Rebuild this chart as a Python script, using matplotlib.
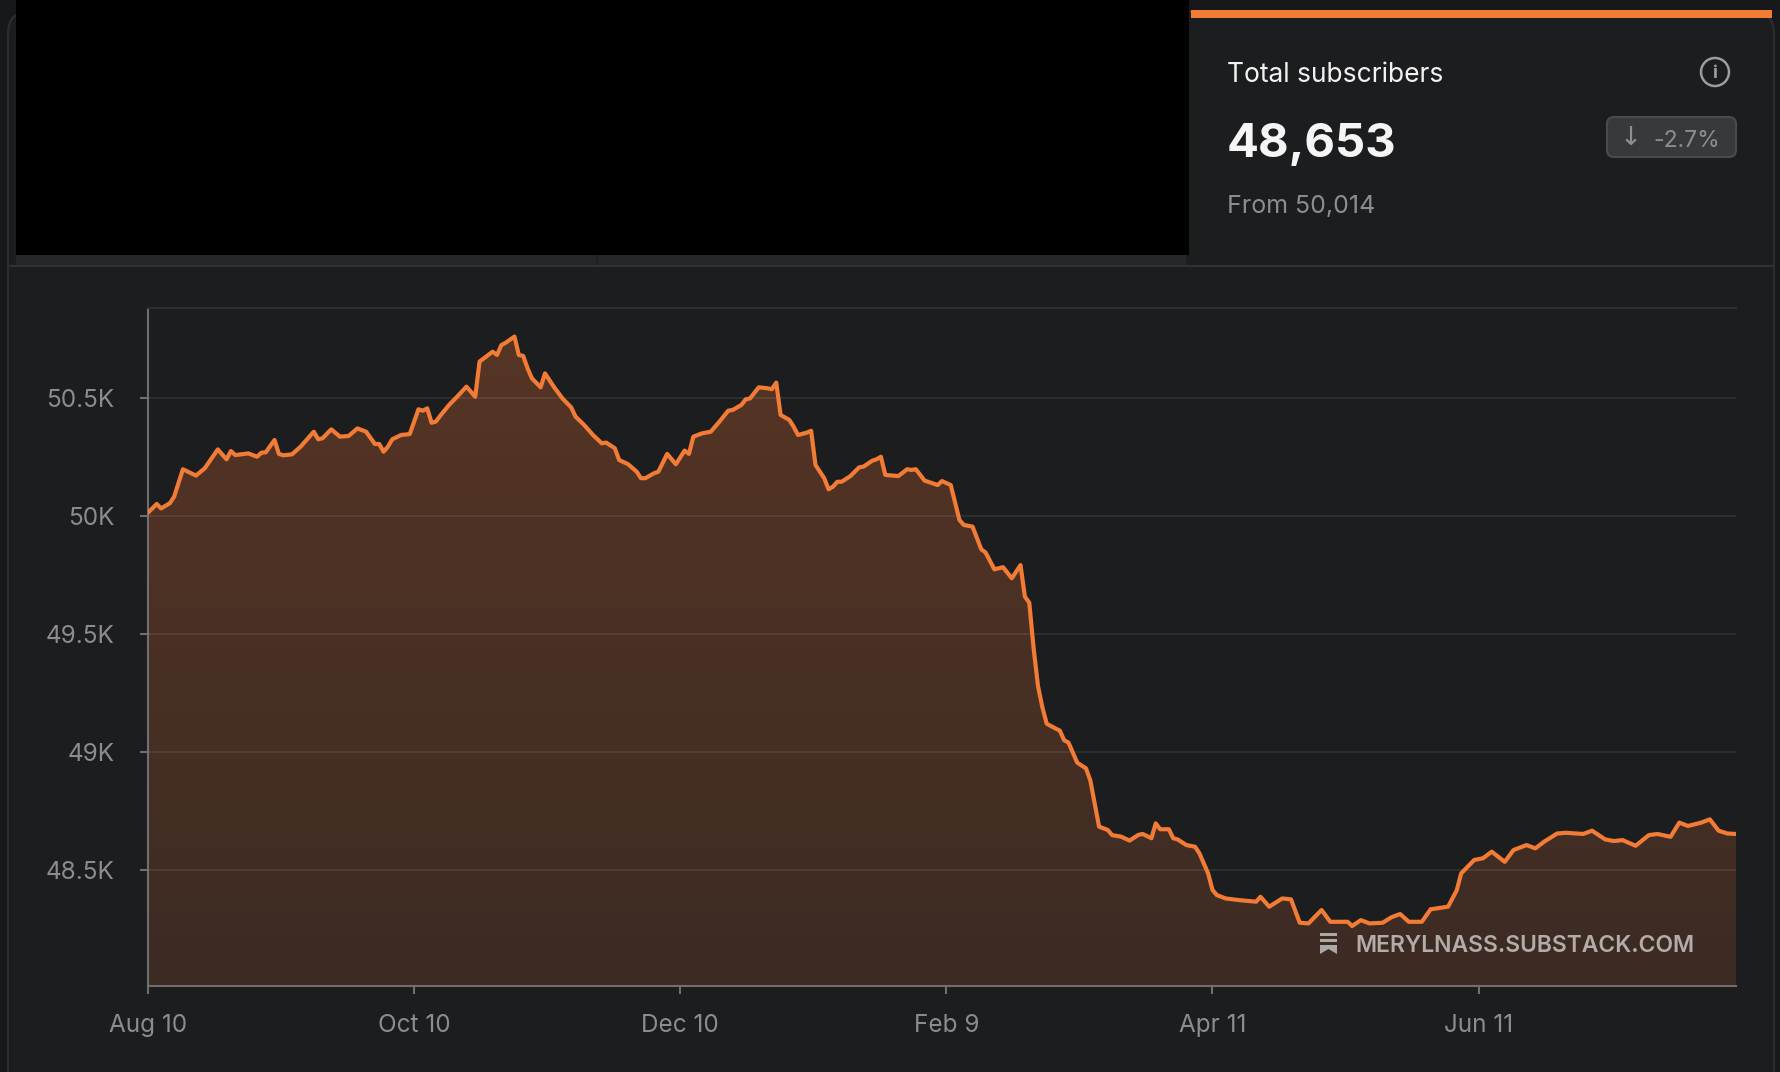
import numpy as np
import matplotlib
matplotlib.use("Agg")
import matplotlib.pyplot as plt
import matplotlib.dates as mdates
from matplotlib.patches import Rectangle, FancyBboxPatch, Ellipse, Polygon
from matplotlib.colors import LinearSegmentedColormap

plt.rcParams['font.family'] = ['Inter', 'DejaVu Sans']

# days since Aug 10 and total subscribers
days = [0, 2, 3, 5, 6, 8, 11, 13, 16, 18, 19, 20, 23, 25, 26, 27, 29, 30, 31, 33,
        35, 38, 39, 40, 42, 44, 46, 48, 50, 52, 53, 54, 55, 56, 58, 60, 62, 63, 64, 65,
        66, 67, 69, 71, 73, 75, 76, 79, 80, 81, 82, 84, 85, 86, 87, 88, 90, 91, 92, 93,
        95, 97, 98, 100, 102, 104, 105, 107, 108, 110, 112, 113, 114, 116, 117, 119, 121, 123, 124, 125,
        127, 129, 131, 133, 134, 136, 137, 138, 140, 142, 143, 144, 145, 147, 148, 149, 151, 152, 153, 155,
        156, 157, 158, 159, 161, 163, 164, 166, 167, 168, 169, 172, 174, 175, 176, 178, 181, 182, 184, 186,
        187, 189, 191, 192, 194, 196, 198, 200, 201, 202, 203, 204, 205, 206, 208, 209, 210, 211, 213, 215,
        216, 218, 220, 221, 223, 225, 227, 228, 230, 231, 232, 234, 235, 236, 238, 240, 241, 243, 244, 245,
        247, 250, 254, 255, 257, 260, 262, 264, 266, 269, 271, 275, 276, 278, 280, 283, 285, 287, 289, 292,
        294, 298, 300, 301, 304, 306, 308, 311, 313, 316, 318, 320, 323, 325, 329, 331, 334, 336, 338, 341,
        344, 346, 349, 351, 353, 356, 358, 360, 362, 364]
subs = [50014, 50051, 50032, 50054, 50082, 50198, 50171, 50202, 50282, 50240, 50275, 50258, 50265, 50251, 50268, 50270, 50322, 50263, 50257, 50261,
        50294, 50357, 50325, 50329, 50367, 50336, 50339, 50371, 50357, 50305, 50305, 50272, 50294, 50325, 50343, 50347, 50452, 50446, 50456, 50395,
        50400, 50425, 50470, 50508, 50548, 50505, 50654, 50696, 50682, 50724, 50734, 50760, 50682, 50678, 50626, 50583, 50545, 50604, 50576, 50548,
        50498, 50460, 50421, 50385, 50343, 50308, 50311, 50287, 50237, 50220, 50188, 50160, 50160, 50181, 50188, 50263, 50219, 50277, 50263, 50336,
        50350, 50357, 50400, 50446, 50449, 50470, 50494, 50498, 50545, 50541, 50537, 50565, 50428, 50407, 50378, 50343, 50353, 50361, 50216, 50160,
        50113, 50124, 50145, 50145, 50169, 50206, 50209, 50234, 50240, 50251, 50174, 50169, 50198, 50195, 50198, 50150, 50131, 50148, 50131, 49983,
        49962, 49955, 49859, 49845, 49774, 49783, 49736, 49792, 49658, 49633, 49440, 49280, 49190, 49120, 49100, 49091, 49050, 49040, 48955, 48931,
        48880, 48684, 48670, 48648, 48642, 48625, 48649, 48653, 48635, 48698, 48673, 48673, 48635, 48630, 48606, 48599, 48571, 48486, 48416, 48394,
        48380, 48373, 48366, 48387, 48345, 48380, 48376, 48277, 48274, 48331, 48281, 48281, 48263, 48288, 48274, 48277, 48300, 48314, 48281, 48281,
        48334, 48345, 48415, 48486, 48543, 48550, 48578, 48535, 48585, 48606, 48592, 48620, 48655, 48658, 48653, 48667, 48630, 48623, 48627, 48603,
        48648, 48653, 48641, 48701, 48687, 48701, 48715, 48667, 48655, 48653]

start = np.datetime64('2024-08-10')
dates = (start + np.array(days, dtype='timedelta64[D]')).astype('datetime64[ms]').astype(object)

tick_dates = ['2024-08-10', '2024-10-10', '2024-12-10', '2025-02-09', '2025-04-11', '2025-06-11']
tick_labels = ['Aug 10', 'Oct 10', 'Dec 10', 'Feb 9', 'Apr 11', 'Jun 11']
y_ticks = [48500, 49000, 49500, 50000, 50500]
y_labels = ['48.5K', '49K', '49.5K', '50K', '50.5K']

W, H = 1780, 1072
BG = '#1c1d1f'
ORANGE = '#f27b36'

fig = plt.figure(figsize=(W / 100, H / 100), dpi=100, facecolor='#17181a')


def box(x0, y0, x1, y1, z=-5, **kw):
    # pixel box (y from top) -> figure rectangle
    r = Rectangle((x0 / W, 1 - y1 / H), (x1 - x0) / W, (y1 - y0) / H,
                  transform=fig.transFigure, zorder=z, **kw)
    fig.patches.append(r)
    return r


# card background and frame
card = FancyBboxPatch((8 / W, -0.05), (1774 - 8) / W, 1.05 - 12 / H,
                      boxstyle='round,pad=0,rounding_size=0.012',
                      mutation_aspect=W / H, zorder=-10,
                      transform=fig.transFigure, facecolor=BG,
                      edgecolor='#2c2d30', lw=1.5)
fig.patches.append(card)

# redacted area and tab strip
box(16, 0, 1189, 255, facecolor='black', edgecolor='none')
box(16, 255, 1186, 265, facecolor='#25272a', edgecolor='none')
box(596, 255, 598, 265, facecolor='#1f2022', edgecolor='none')
box(9, 265, 1774, 267, facecolor='#303134', edgecolor='none')

# right summary card
box(1191, 10, 1772, 18, facecolor=ORANGE, edgecolor='none')
fig.text(1227 / W, 1 - 82 / H, 'Total subscribers', color='#f2f2f2', fontsize=19)
fig.text(1227 / W, 1 - 157 / H, '48,653', color='#f5f5f5', fontsize=34, fontweight='bold')
fig.text(1227 / W, 1 - 213 / H, 'From 50,014', color='#8d8d90', fontsize=18)

badge = FancyBboxPatch((1607 / W, 1 - 157 / H), (1736 - 1607) / W, 40 / H,
                       boxstyle='round,pad=0,rounding_size=0.004',
                       mutation_aspect=W / H, zorder=-4,
                       transform=fig.transFigure, facecolor='#38393c',
                       edgecolor='#4a4b4e', lw=1.5)
fig.patches.append(badge)
fig.text(1631 / W, 1 - 138 / H, '\u2193', color='#8e8e91', fontsize=19,
         ha='center', va='center', family='DejaVu Sans')
fig.text(1653 / W, 1 - 147 / H, '-2.7%', color='#8e8e91', fontsize=16.5)

info = Ellipse((1715 / W, 1 - 72 / H), 28 / W, 28 / H, transform=fig.transFigure,
               facecolor='none', edgecolor='#9c9c9f', lw=1.8, zorder=-4)
fig.patches.append(info)
fig.text(1715 / W, 1 - 73 / H, 'i', color='#9c9c9f', fontsize=13, fontweight='bold',
         ha='center', va='center')

# chart
ax = fig.add_axes([148 / W, 1 - 986 / H, (1736 - 148) / W, (986 - 308) / H])
ax.set_facecolor('none')

x0 = mdates.date2num(np.datetime64('2024-08-10'))
x1 = mdates.date2num(np.datetime64('2025-08-09'))
y0, y1 = 48009, 50881
ax.set_xlim(x0, x1)
ax.set_ylim(y0, y1)

fill = ax.fill_between(dates, subs, y0, facecolor='none', edgecolor='none')
cmap = LinearSegmentedColormap.from_list('fill', ['#3c2b23', '#573525'])
grad = np.linspace(0, 1, 256).reshape(-1, 1)
im = ax.imshow(grad, extent=[x0, x1, y0, y1], aspect='auto', origin='lower',
               cmap=cmap, zorder=1, interpolation='bilinear')
im.set_clip_path(fill.get_paths()[0], transform=ax.transData)

ax.plot(dates, subs, color=ORANGE, lw=3.0, solid_joinstyle='round',
        solid_capstyle='round', zorder=4)

ax.set_yticks(y_ticks)
ax.set_yticklabels(y_labels)
ax.set_xticks([mdates.date2num(np.datetime64(d)) for d in tick_dates])
ax.set_xticklabels(tick_labels)

ax.set_axisbelow(False)
ax.yaxis.grid(True, color='white', alpha=0.075, lw=1.5)
ax.tick_params(axis='both', colors='#6f6f72', labelcolor='#8c8c8f', labelsize=17.5,
               length=6, width=1.5)
ax.tick_params(axis='y', pad=18)
ax.tick_params(axis='x', pad=14)

ax.spines['right'].set_visible(False)
ax.spines['top'].set_color('#2e2f32')
ax.spines['top'].set_linewidth(1.5)
ax.spines['left'].set_color('#6f6f72')
ax.spines['left'].set_linewidth(1.5)
ax.spines['bottom'].set_color('#726d6a')
ax.spines['bottom'].set_linewidth(1.5)

# watermark with substack logo
wm = '#aea7a3'
box(1320, 933, 1337, 936, z=5, facecolor=wm, edgecolor='none')
box(1320, 939, 1337, 942, z=5, facecolor=wm, edgecolor='none')
mark = Polygon([(1320 / W, 1 - 945 / H), (1337 / W, 1 - 945 / H), (1337 / W, 1 - 954 / H),
                (1328.5 / W, 1 - 949 / H), (1320 / W, 1 - 954 / H)],
               closed=True, transform=fig.transFigure, facecolor=wm, edgecolor='none', zorder=5)
fig.patches.append(mark)
fig.text(1355 / W, 1 - 952 / H, 'MERYLNASS.SUBSTACK.COM', color='#b3aca8',
         fontsize=16.5, fontweight='semibold', zorder=5)

fig.savefig('out.png', dpi=100, facecolor=fig.get_facecolor())
